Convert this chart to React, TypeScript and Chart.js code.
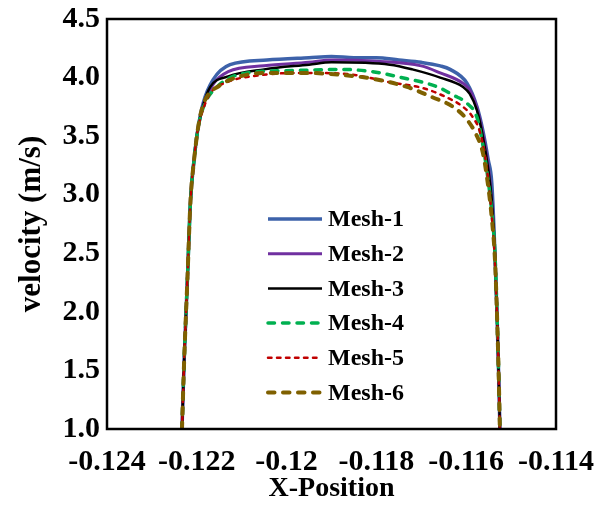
import React, { useEffect, useRef } from "react";
import { Chart, registerables } from "chart.js";

Chart.register(...registerables);

const seriesNames = ["Mesh-1", "Mesh-2", "Mesh-3", "Mesh-4", "Mesh-5", "Mesh-6"];

const xMesh1 = [-0.12233, -0.12228, -0.12221, -0.12214, -0.12206, -0.12198, -0.12186, -0.12164, -0.12126, -0.12044, -0.1195, -0.119, -0.1185, -0.118, -0.1175, -0.117, -0.11658, -0.11636, -0.11598, -0.11576, -0.11563, -0.11551, -0.11543, -0.11536, -0.11531, -0.11527, -0.11525];
const yMesh1 = [1.0, 1.6, 2.27, 2.95, 3.3, 3.55, 3.78, 3.98, 4.11, 4.15, 4.17, 4.18, 4.17, 4.17, 4.15, 4.13, 4.1, 4.07, 3.95, 3.75, 3.55, 3.3, 3.1, 2.5, 1.93, 1.36, 1.0];

const xMesh2 = [-0.12233, -0.12228, -0.12221, -0.12214, -0.12206, -0.12198, -0.12186, -0.12164, -0.1213, -0.1205, -0.1195, -0.119, -0.118, -0.117, -0.11658, -0.11607, -0.1159, -0.11576, -0.11563, -0.11551, -0.11543, -0.11536, -0.11531, -0.11527, -0.11525];
const yMesh2 = [1.0, 1.6, 2.27, 2.95, 3.3, 3.55, 3.76, 3.94, 4.05, 4.1, 4.13, 4.15, 4.14, 4.1, 4.04, 3.95, 3.88, 3.74, 3.52, 3.25, 2.95, 2.5, 1.93, 1.36, 1.0];

const xMesh3 = [-0.12233, -0.12228, -0.12221, -0.12214, -0.12206, -0.12198, -0.12186, -0.1217, -0.1213, -0.1205, -0.1195, -0.119, -0.1177, -0.1172, -0.11658, -0.11607, -0.11592, -0.11576, -0.11563, -0.11551, -0.11543, -0.11536, -0.11531, -0.11527, -0.11525];
const yMesh3 = [1.0, 1.6, 2.27, 2.95, 3.3, 3.55, 3.76, 3.92, 4.01, 4.07, 4.11, 4.13, 4.11, 4.07, 4.0, 3.92, 3.86, 3.72, 3.5, 3.22, 2.95, 2.5, 1.93, 1.36, 1.0];

const xMesh4 = [-0.12233, -0.12228, -0.12221, -0.12214, -0.12206, -0.12198, -0.12186, -0.12155, -0.12088, -0.11986, -0.11881, -0.11808, -0.11732, -0.11687, -0.11658, -0.11629, -0.11598, -0.11576, -0.11565, -0.11552, -0.11543, -0.11536, -0.11531, -0.11527, -0.11525];
const yMesh4 = [1.0, 1.6, 2.27, 2.95, 3.3, 3.55, 3.74, 3.92, 4.04, 4.06, 4.07, 4.05, 3.99, 3.95, 3.91, 3.85, 3.78, 3.66, 3.47, 3.15, 2.85, 2.5, 1.93, 1.36, 1.0];

const xMesh5 = [-0.12233, -0.12228, -0.12221, -0.12214, -0.12206, -0.12198, -0.1219, -0.12171, -0.12133, -0.12059, -0.1197, -0.11865, -0.1177, -0.11696, -0.11643, -0.11607, -0.11585, -0.11569, -0.11555, -0.11545, -0.11537, -0.11531, -0.11527, -0.11525];
const yMesh5 = [1.0, 1.6, 2.27, 2.95, 3.3, 3.55, 3.68, 3.86, 3.96, 4.02, 4.04, 4.03, 3.96, 3.91, 3.83, 3.75, 3.66, 3.53, 3.25, 2.9, 2.5, 1.93, 1.36, 1.0];

const xMesh6 = [-0.12233, -0.12228, -0.12221, -0.12214, -0.12206, -0.12198, -0.12192, -0.1218, -0.1215, -0.12113, -0.12046, -0.11957, -0.1187, -0.11808, -0.11732, -0.11674, -0.11629, -0.11598, -0.11576, -0.11563, -0.11552, -0.11543, -0.11536, -0.11531, -0.11527, -0.11525];
const yMesh6 = [1.0, 1.6, 2.27, 2.95, 3.3, 3.55, 3.68, 3.82, 3.93, 4.0, 4.04, 4.04, 4.02, 3.99, 3.92, 3.83, 3.75, 3.64, 3.5, 3.36, 3.1, 2.8, 2.45, 1.93, 1.36, 1.0];

const xTickValues = [-0.124, -0.122, -0.12, -0.118, -0.116, -0.114];
const xTickLabels = ["-0.124", "-0.122", "-0.12", "-0.118", "-0.116", "-0.114"];
const yTickValues = [1.0, 1.5, 2.0, 2.5, 3.0, 3.5, 4.0, 4.5];
const yTickLabels = ["1.0", "1.5", "2.0", "2.5", "3.0", "3.5", "4.0", "4.5"];

const seriesX = [xMesh1, xMesh2, xMesh3, xMesh4, xMesh5, xMesh6];
const seriesY = [yMesh1, yMesh2, yMesh3, yMesh4, yMesh5, yMesh6];

const styles = [
  { color: "#3D62AA", width: 3.5, dash: [] as number[], cap: "butt" },
  { color: "#7030A0", width: 3, dash: [] as number[], cap: "butt" },
  { color: "#000000", width: 2.5, dash: [] as number[], cap: "butt" },
  { color: "#00B050", width: 3.5, dash: [6.5, 8], cap: "round" },
  { color: "#C00000", width: 2.5, dash: [3.5, 5.5], cap: "round" },
  { color: "#7F6000", width: 4, dash: [6.5, 8.5], cap: "round" },
];

const FONT = '"Liberation Serif", "Times New Roman", serif';

const framePlugin = {
  id: "frame",
  afterDatasetsDraw(chart: any) {
    const { ctx, chartArea } = chart;
    ctx.save();
    ctx.strokeStyle = "#000";
    ctx.lineWidth = 2.5;
    ctx.strokeRect(chartArea.left, chartArea.top, chartArea.right - chartArea.left, chartArea.bottom - chartArea.top);
    ctx.restore();
  },
};

const legendPlugin = {
  id: "inlineLegend",
  afterDraw(chart: any) {
    const { ctx, chartArea } = chart;
    const x0 = chartArea.left + 161;
    const x1 = x0 + 54;
    const tx = x1 + 6;
    chart.data.datasets.forEach((ds: any, i: number) => {
      const y = chartArea.top + 200 + i * 34.7;
      ctx.save();
      ctx.strokeStyle = ds.borderColor;
      ctx.lineWidth = ds.borderWidth;
      ctx.setLineDash(ds.borderDash || []);
      ctx.lineCap = ds.borderCapStyle || "butt";
      ctx.beginPath();
      ctx.moveTo(x0, y);
      ctx.lineTo(x1, y);
      ctx.stroke();
      ctx.setLineDash([]);
      ctx.fillStyle = "#000";
      ctx.font = `bold 24px ${FONT}`;
      ctx.textBaseline = "middle";
      ctx.textAlign = "left";
      ctx.fillText(ds.label, tx, y + 1);
      ctx.restore();
    });
  },
};

export default function App() {
  const canvasRef = useRef<HTMLCanvasElement>(null);

  useEffect(() => {
    document.body.style.margin = "0";
    const canvas = canvasRef.current;
    if (!canvas) return;
    const datasets = seriesNames.map((name, i) => ({
      label: name,
      data: seriesX[i].map((x, j) => ({ x, y: seriesY[i][j] })),
      borderColor: styles[i].color,
      backgroundColor: styles[i].color,
      borderWidth: styles[i].width,
      borderDash: styles[i].dash,
      borderCapStyle: styles[i].cap,
      borderJoinStyle: "round",
      showLine: true,
      pointRadius: 0,
      pointHoverRadius: 0,
      cubicInterpolationMode: "monotone",
      order: seriesNames.length - i,
      fill: false,
    }));

    const chart = new Chart(canvas, {
      type: "scatter",
      data: { datasets } as any,
      options: {
        animation: false,
        responsive: false,
        devicePixelRatio: 1,
        layout: { padding: { left: 0, top: 19, right: 48, bottom: 0 } },
        plugins: { legend: { display: false }, tooltip: { enabled: false } },
        scales: {
          x: {
            type: "linear",
            min: -0.124,
            max: -0.114,
            afterBuildTicks: (axis: any) => {
              axis.ticks = xTickValues.map((v) => ({ value: v }));
            },
            afterFit: (axis: any) => {
              axis.height = 79;
              axis.paddingLeft = 0;
              axis.paddingRight = 0;
            },
            grid: { display: false, drawTicks: false },
            border: { display: false },
            ticks: {
              autoSkip: false,
              maxRotation: 0,
              padding: 15,
              color: "#000",
              font: { family: FONT, size: 30, weight: "bold" },
              callback: (_v: any, i: number) => xTickLabels[i],
            },
            title: {
              display: true,
              text: "X-Position",
              color: "#000",
              font: { family: FONT, size: 28, weight: "bold" },
              padding: { top: 0, bottom: 2 },
            },
          },
          y: {
            type: "linear",
            min: 1.0,
            max: 4.5,
            afterBuildTicks: (axis: any) => {
              axis.ticks = yTickValues.map((v) => ({ value: v }));
            },
            afterFit: (axis: any) => {
              axis.width = 107;
              axis.paddingTop = 0;
              axis.paddingBottom = 0;
            },
            grid: { display: false, drawTicks: false },
            border: { display: false },
            ticks: {
              autoSkip: false,
              padding: 7,
              color: "#000",
              font: { family: FONT, size: 30, weight: "bold" },
              callback: (_v: any, i: number) => yTickLabels[i],
            },
            title: {
              display: true,
              text: "velocity (m/s)",
              color: "#000",
              font: { family: FONT, size: 31, weight: "bold" },
              padding: { top: 13, bottom: 0 },
            },
          },
        },
      } as any,
      plugins: [framePlugin, legendPlugin],
    });
    return () => chart.destroy();
  }, []);

  return (
    <div style={{ position: "absolute", left: 0, top: 0, width: 604, height: 508, background: "#fff" }}>
      <canvas ref={canvasRef} width={604} height={508} style={{ width: 604, height: 508 }} />
    </div>
  );
}
